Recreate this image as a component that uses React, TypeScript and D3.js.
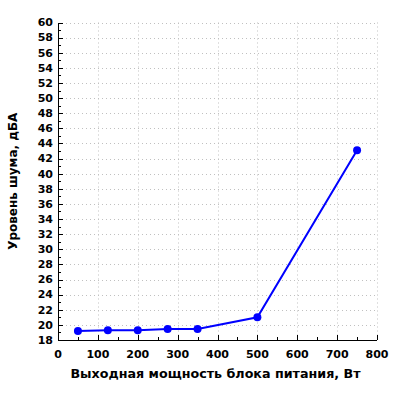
import { useEffect, useRef } from "react";
import { select, scaleLinear, line, range } from "d3";

// data
const powerW = [50, 125, 200, 275, 350, 500, 750];
const noiseDb = [19.2, 19.3, 19.3, 19.45, 19.45, 21.0, 43.1];

const xTicks = [0, 100, 200, 300, 400, 500, 600, 700, 800];
const yTicks = range(18, 61, 2);

const xTitle = "Выходная мощность блока питания, Вт";
const yTitle = "Уровень шума, дБА";

const width = 400;
const height = 400;
const margin = { top: 22.5, right: 23, bottom: 60, left: 58 };
const font = "DejaVu Sans";

export default function App() {
  const ref = useRef<SVGSVGElement>(null);

  useEffect(() => {
    if (!ref.current) return;
    const svg = select(ref.current);
    svg.selectAll("*").remove();

    const x = scaleLinear().domain([0, 800]).range([margin.left, width - margin.right]);
    const y = scaleLinear().domain([18, 60]).range([height - margin.bottom, margin.top]);

    const x0 = x(0);
    const y0 = y(18);

    // dotted grid
    const grid = svg.append("g").attr("stroke", "#c0c0c0").attr("stroke-width", 1).attr("stroke-dasharray", "1,3");
    grid
      .selectAll(".gx")
      .data(xTicks.slice(1))
      .enter()
      .append("line")
      .attr("x1", (d) => Math.round(x(d)) + 0.5)
      .attr("x2", (d) => Math.round(x(d)) + 0.5)
      .attr("y1", y(60))
      .attr("y2", y0);
    grid
      .selectAll(".gy")
      .data(yTicks.slice(1))
      .enter()
      .append("line")
      .attr("x1", x0)
      .attr("x2", x(800))
      .attr("y1", (d) => Math.round(y(d)) + 0.5)
      .attr("y2", (d) => Math.round(y(d)) + 0.5);

    // axes
    const axes = svg.append("g").attr("stroke", "#000").attr("stroke-width", 1).attr("shape-rendering", "crispEdges");
    axes.append("line").attr("x1", x0).attr("x2", x0).attr("y1", y(60)).attr("y2", y0);
    axes.append("line").attr("x1", x0).attr("x2", x(800)).attr("y1", y0).attr("y2", y0);

    // y ticks every 1, major every 2
    axes
      .selectAll(".ty")
      .data(range(18, 61, 1))
      .enter()
      .append("line")
      .attr("x1", x0)
      .attr("x2", (d) => x0 + (d % 2 === 0 ? 5 : 3))
      .attr("y1", (d) => Math.round(y(d)))
      .attr("y2", (d) => Math.round(y(d)));

    // x ticks every 50, major every 100
    axes
      .selectAll(".tx")
      .data(range(0, 801, 50))
      .enter()
      .append("line")
      .attr("x1", (d) => Math.round(x(d)))
      .attr("x2", (d) => Math.round(x(d)))
      .attr("y1", y0)
      .attr("y2", (d) => y0 - (d % 100 === 0 ? 5 : 3));

    // tick labels
    svg
      .append("g")
      .selectAll("text")
      .data(yTicks)
      .enter()
      .append("text")
      .attr("x", x0 - 5)
      .attr("y", (d) => y(d))
      .attr("dy", "0.35em")
      .attr("text-anchor", "end")
      .attr("font-family", font)
      .attr("font-weight", "700")
      .attr("font-size", "11px")
      .text((d) => d);

    svg
      .append("g")
      .selectAll("text")
      .data(xTicks)
      .enter()
      .append("text")
      .attr("x", (d) => x(d))
      .attr("y", y0 + 18)
      .attr("text-anchor", "middle")
      .attr("font-family", font)
      .attr("font-weight", "700")
      .attr("font-size", "11px")
      .text((d) => d);

    // axis titles
    svg
      .append("text")
      .attr("x", (x0 + x(800)) / 2 - 2)
      .attr("y", y0 + 38)
      .attr("text-anchor", "middle")
      .attr("font-family", font)
      .attr("font-weight", "700")
      .attr("font-size", "12.7px")
      .text(xTitle);

    svg
      .append("text")
      .attr("transform", `translate(17, ${(y(60) + y0) / 2}) rotate(-90)`)
      .attr("text-anchor", "middle")
      .attr("font-family", font)
      .attr("font-weight", "700")
      .attr("font-size", "12px")
      .text(yTitle);

    // series
    const pts = powerW.map((p, i) => [p, noiseDb[i]] as [number, number]);
    const path = line<[number, number]>()
      .x((d) => x(d[0]))
      .y((d) => y(d[1]));

    svg
      .append("path")
      .datum(pts)
      .attr("d", path)
      .attr("fill", "none")
      .attr("stroke", "#0000ff")
      .attr("stroke-width", 2);

    svg
      .append("g")
      .selectAll("circle")
      .data(pts)
      .enter()
      .append("circle")
      .attr("cx", (d) => x(d[0]))
      .attr("cy", (d) => y(d[1]))
      .attr("r", 4)
      .attr("fill", "#0000ff");
  }, []);

  return (
    <svg
      ref={ref}
      width={width}
      height={height}
      style={{ position: "absolute", left: 0, top: 0, background: "#fff" }}
    ></svg>
  );
}
